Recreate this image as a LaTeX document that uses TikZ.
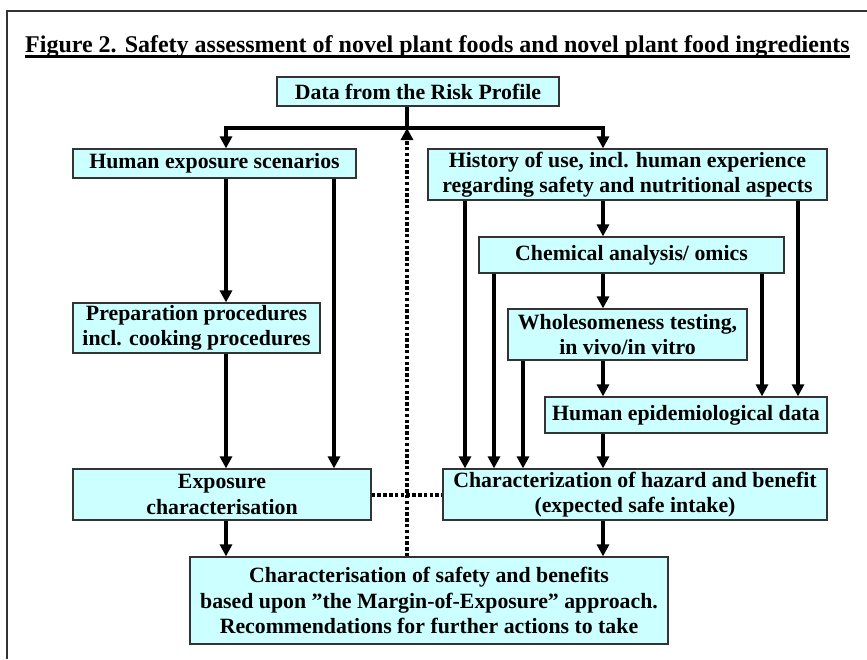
\documentclass[tikz,border=0pt]{standalone}
\usepackage{fontspec}
\setmainfont{Liberation Serif}
\usetikzlibrary{arrows.meta}
\definecolor{boxfill}{HTML}{CCFFFF}
\definecolor{boxline}{HTML}{333333}
\tikzset{
  fbox/.style={draw=boxline, line width=1.2pt, fill=boxfill, inner sep=0pt, align=center,
    font=\fontsize{21.8}{25.5}\selectfont\bfseries},
  conn/.style={line width=4pt, line cap=butt},
  arr/.style={conn, -{Triangle[width=12pt,length=12pt]}},
  dotline/.style={line width=4pt, dash pattern=on 3.5pt off 2.3pt},
  dotarr/.style={dotline, -{Triangle[width=12pt,length=12pt]}},
}
\begin{document}
\begin{tikzpicture}[x=1pt,y=-1pt]
\useasboundingbox (0,0) rectangle (867,659);
% frame
\draw[line width=1.6pt, draw=boxline] (7,659) -- (7,11) -- (867,11);
% title
\node[anchor=base west, inner sep=0pt, font=\fontsize{24}{28}\selectfont\bfseries] (title) at (25,52)
  {Figure 2. Safety assessment of novel plant foods and novel plant food ingredients};
\draw[line width=2.2pt] ([yshift=-4.5pt]title.base west) -- ([yshift=-4.5pt]title.base east);
% boxes
\node[fbox, minimum width=282pt, minimum height=29pt] (data) at (418,91.5) {Data from the Risk Profile};
\node[fbox, minimum width=283pt, minimum height=29pt] (hum) at (214.5,163.5) {Human exposure scenarios};
\node[fbox, minimum width=399pt, minimum height=51pt] (hist) at (627.5,174.5) {History of use, incl. human experience\\regarding safety and nutritional aspects};
\node[fbox, minimum width=305pt, minimum height=36pt] (chem) at (631.5,255) {Chemical analysis/ omics};
\node[fbox, minimum width=247pt, minimum height=50pt] (prep) at (196.5,328) {Preparation procedures\\incl. cooking procedures};
\node[fbox, minimum width=239pt, minimum height=51pt] (whole) at (627.5,334.5) {Wholesomeness testing,\\in vivo/in vitro};
\node[fbox, minimum width=282pt, minimum height=36pt] (epi) at (686,415) {Human epidemiological data};
\node[fbox, minimum width=298pt, minimum height=51pt] (expo) at (222,494.5) {Exposure\\characterisation};
\node[fbox, minimum width=384pt, minimum height=51pt] (haz) at (635,494.5) {Characterization of hazard and benefit\\(expected safe intake)};
\node[fbox, minimum width=478pt, minimum height=87pt] (final) at (429,600.5) {Characterisation of safety and benefits\\based upon ''the Margin-of-Exposure'' approach.\\Recommendations for further actions to take};
% x positions
\coordinate (j) at (407,128);
\coordinate (xa) at (226,0);
\coordinate (xb) at (334,0);
\coordinate (xc) at (603,0);
\coordinate (xd) at (465,0);
\coordinate (xe) at (494,0);
\coordinate (xf) at (523,0);
\coordinate (xg) at (762,0);
\coordinate (xh) at (798,0);
\coordinate (xj) at (407,0);
% connectors
\draw[conn] (data.south -| xj) -- (j);
\draw[arr] (j) -| (hum.north -| xa);
\draw[arr] (j) -| (hist.north -| xc);
\draw[arr] (hum.south -| xa) -- (prep.north -| xa);
\draw[arr] (hum.south -| xb) -- (expo.north -| xb);
\draw[arr] (prep.south -| xa) -- (expo.north -| xa);
\draw[arr] (hist.south -| xc) -- (chem.north -| xc);
\draw[arr] (hist.south -| xd) -- (haz.north -| xd);
\draw[arr] (hist.south -| xh) -- (epi.north -| xh);
\draw[arr] (chem.south -| xc) -- (whole.north -| xc);
\draw[arr] (chem.south -| xe) -- (haz.north -| xe);
\draw[arr] (chem.south -| xg) -- (epi.north -| xg);
\draw[arr] (whole.south -| xc) -- (epi.north -| xc);
\draw[arr] (whole.south -| xf) -- (haz.north -| xf);
\draw[arr] (epi.south -| xc) -- (haz.north -| xc);
\draw[arr] (expo.south -| xa) -- (final.north -| xa);
\draw[arr] (haz.south -| xc) -- (final.north -| xc);
\draw[dotarr] (final.north -| xj) -- (j);
\draw[dotline] (expo.east) -- (haz.west);
\end{tikzpicture}
\end{document}
